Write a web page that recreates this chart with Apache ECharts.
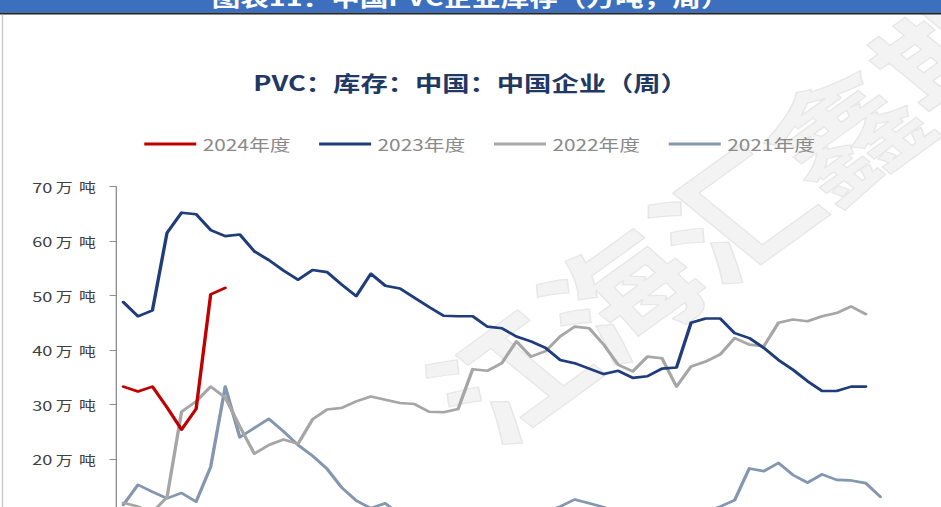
<!DOCTYPE html>
<html>
<head>
<meta charset="utf-8">
<script src="https://cdn.jsdelivr.net/npm/echarts@6/dist/echarts.min.js"></script>
<style>
  html, body { margin: 0; padding: 0; background: #fff; width: 941px; height: 507px; overflow: hidden; }
  /* chart is laid out on a narrower canvas and widened horizontally */
  #c { width: 724px; height: 620px; transform: scaleX(1.29972); transform-origin: 0 0; }
</style>
</head>
<body>
<div id="c"></div>
<script>
// Weekly PVC inventory held by Chinese producers (万吨), one series per year
const weeks = ['1','2','3','4','5','6','7','8','9','10','11','12','13','14','15','16','17','18','19','20',
  '21','22','23','24','25','26','27','28','29','30','31','32','33','34','35','36','37','38','39','40',
  '41','42','43','44','45','46','47','48','49','50','51','52','53'];

const y2024 = [33.3, 32.4, 33.3, 29.5, 25.4, 29.2, 50.2, 51.4];

const y2023 = [48.8, 46.2, 47.3, 61.5, 65.2, 64.9, 62.0, 60.9, 61.2, 58.1,
  56.5, 54.6, 52.9, 54.7, 54.3, 52.0, 49.9, 54.0, 51.8, 51.3,
  49.6, 47.9, 46.3, 46.2, 46.2, 44.3, 44.0, 42.5, 41.6, 40.4,
  38.2, 37.6, 36.6, 35.6, 36.2, 34.9, 35.2, 36.6, 36.8, 45.0,
  45.8, 45.8, 43.1, 42.2, 40.4, 38.2, 36.4, 34.3, 32.5, 32.5,
  33.3, 33.3];

const y2022 = [12.0, 11.3, 10.3, 13.0, 28.7, 30.6, 33.3, 31.3, 26.0, 21.0,
  22.6, 23.6, 22.8, 27.3, 29.1, 29.4, 30.6, 31.5, 30.9, 30.3,
  30.1, 28.7, 28.6, 29.2, 36.5, 36.2, 37.6, 41.6, 38.8, 39.8,
  42.5, 44.3, 44.0, 41.0, 37.3, 36.1, 38.8, 38.5, 33.3, 37.0,
  37.9, 39.2, 42.2, 41.0, 40.7, 45.0, 45.6, 45.3, 46.2, 46.8,
  48.0, 46.6];

const y2021 = [11.6, 15.3, 14.0, 12.8, 13.8, 12.2, 18.6, 33.3, 24.0, 25.7,
  27.4, 25.1, 22.6, 20.6, 18.2, 14.8, 12.4, 11.0, 11.9, 9.8,
  8.6, 8.0, 7.6, 7.4, 7.8, 8.2, 8.6, 9.0, 9.6, 10.4,
  11.3, 12.6, 11.9, 11.2, 10.2, 9.4, 8.8, 8.6, 9.0, 9.6,
  10.4, 11.3, 12.5, 18.3, 17.8, 19.3, 17.1, 15.7, 17.2, 16.2,
  16.1, 15.6, 13.1];

const seriesNames = ['2024年度', '2023年度', '2022年度', '2021年度'];
const seriesColors = ['#c00000', '#1f3d7a', '#a6a6a6', '#8497b0'];
const yTicks = { min: 0, max: 70, step: 10, unit: ['万', '吨'] };

const chartTitle = 'PVC：库存：中国：中国企业（周）';
const headerText = '图表11：中国PVC企业库存（万吨，周）';
const watermark = '江海汇鑫期货';

const W = 724;
const FONT = '"Noto Sans CJK SC", "Noto Sans", sans-serif';

const chart = echarts.init(document.getElementById('c'), null, { renderer: 'svg' });

function lineSeries(name, data, color, z) {
  return {
    name: name,
    type: 'line',
    data: data,
    symbol: 'none',
    z: z,
    lineStyle: { color: color, width: 2.6, join: 'round', cap: 'round' },
    itemStyle: { color: color },
    emphasis: { disabled: true }
  };
}

chart.setOption({
  animation: false,
  backgroundColor: '#ffffff',
  textStyle: { fontFamily: FONT },
  title: {
    text: chartTitle,
    left: 'center',
    top: 66,
    textStyle: { fontFamily: FONT, fontSize: 21, fontWeight: 'bold', color: '#1f3864' }
  },
  legend: {
    data: seriesNames,
    left: 106,
    top: 131,
    icon: 'rect',
    itemWidth: 40,
    itemHeight: 3,
    itemGap: 22,
    textStyle: { fontFamily: FONT, fontSize: 16, color: '#8a8a8a' }
  },
  grid: { left: 89.3, right: 41.1, top: 186.5, bottom: 51.8 },
  xAxis: {
    type: 'category',
    data: weeks,
    boundaryGap: true,
    axisLine: { show: true, lineStyle: { color: '#8c8c8c', width: 1 } },
    axisTick: { show: false },
    axisLabel: { show: false },
    splitLine: { show: false }
  },
  yAxis: {
    type: 'value',
    min: yTicks.min,
    max: yTicks.max,
    interval: yTicks.step,
    axisLine: { show: true, lineStyle: { color: '#8c8c8c', width: 1 } },
    axisTick: { show: true, inside: false, length: 5, lineStyle: { color: '#8c8c8c' } },
    splitLine: { show: false },
    axisLabel: {
      margin: 13,
      formatter: function (v) { return '{n|' + v + '}{u|' + yTicks.unit[0] + '}{u|' + yTicks.unit[1] + '}'; },
      rich: {
        n: { fontFamily: FONT, fontSize: 14, color: '#404040' },
        u: { fontFamily: FONT, fontSize: 13, color: '#404040', width: 18, align: 'center' }
      }
    }
  },
  graphic: [
    {
      type: 'text', z: 0, silent: true,
      x: 603, y: 170, rotation: 0.755,
      style: {
        text: watermark, fontFamily: FONT, fontSize: 118, fontWeight: 'bold',
        fill: 'rgba(226,226,226,0.42)', stroke: 'rgba(200,200,200,0.4)', lineWidth: 1.2,
        align: 'center', verticalAlign: 'middle'
      }
    },
    {
      type: 'rect', z: 10, silent: true,
      shape: { x: 0, y: 0, width: W, height: 12.5 },
      style: { fill: '#3c6fbe' }
    },
    {
      type: 'rect', z: 10, silent: true,
      shape: { x: 0, y: 12.5, width: W, height: 2 },
      style: { fill: '#1b2336' }
    },
    {
      type: 'text', z: 11, silent: true,
      x: 362, y: -4,
      style: {
        text: headerText, fontFamily: FONT, fontSize: 22, fontWeight: 'bold',
        fill: '#ffffff', align: 'center', verticalAlign: 'middle'
      }
    },
    {
      type: 'line', z: 10, silent: true,
      shape: { x1: 1.9, y1: 14.5, x2: 1.9, y2: 620 },
      style: { stroke: '#c8c8c8', lineWidth: 1 }
    }
  ],
  series: [
    lineSeries(seriesNames[3], y2021, seriesColors[3], 2),
    lineSeries(seriesNames[2], y2022, seriesColors[2], 3),
    lineSeries(seriesNames[1], y2023, seriesColors[1], 4),
    lineSeries(seriesNames[0], y2024, seriesColors[0], 5)
  ]
});
</script>
</body>
</html>
